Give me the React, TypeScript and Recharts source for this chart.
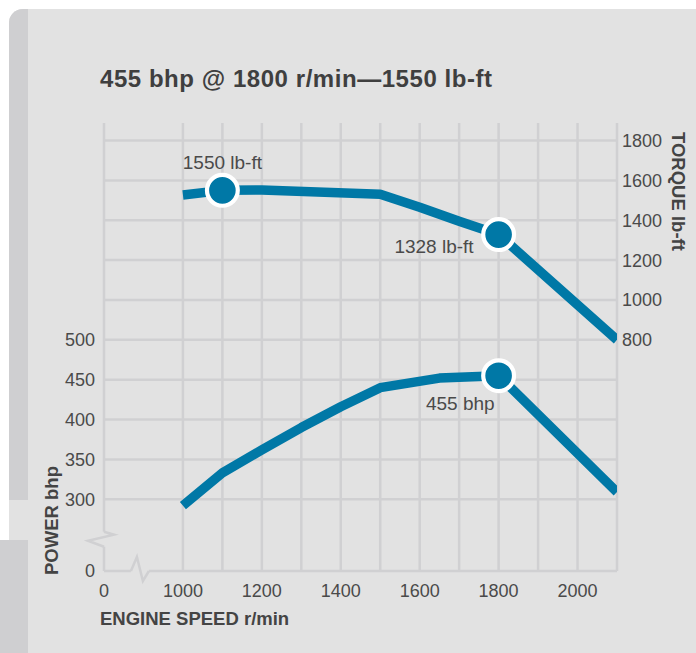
import React from "react";
import {
  LineChart,
  Line,
  XAxis,
  YAxis,
  CartesianGrid,
  ReferenceDot,
} from "recharts";

// engine speed axis (800 stands in for the broken "0")
const rpmTicks = [800, 1000, 1200, 1400, 1600, 1800, 2000];
const rpmGrid = [800, 1000, 1100, 1200, 1300, 1400, 1500, 1600, 1700, 1800, 1900, 2000, 2100];
const powerTicks = [210, 300, 350, 400, 450, 500];
const torqueTicks = [800, 1000, 1200, 1400, 1600, 1800];
const gridPower = [300, 350, 400, 450, 500, 550, 600, 650, 700, 750];

const torqueRpm = [1000, 1100, 1200, 1500, 1600, 1700, 1800, 2100];
const torqueLbFt = [1527, 1550, 1552, 1530, 1465, 1395, 1328, 800];
const powerRpm = [1000, 1100, 1200, 1300, 1400, 1500, 1650, 1800, 2100];
const powerBhp = [292, 333, 362, 390, 416, 440, 452, 455, 309];

const torqueMarkers = [
  { rpm: 1100, value: 1550, label: "1550 lb-ft" },
  { rpm: 1800, value: 1328, label: "1328 lb-ft" },
];
const powerMarkers = [{ rpm: 1800, value: 455, label: "455 bhp" }];

const torqueData = torqueRpm.map((rpm, i) => ({ rpm, torque: torqueLbFt[i] }));
const powerData = powerRpm.map((rpm, i) => ({ rpm, power: powerBhp[i] }));

const BLUE = "#0078a6";
const GRID = "#d0d0d2";
const PANEL = "#e2e2e2";
const TEXT = "#4a4a4a";
const FONT = "'Liberation Sans', Arial, Helvetica, sans-serif";
const TICK = { fontSize: 18, fill: TEXT, fontFamily: FONT };

// where each marker's text sits relative to the dot
const labelPlacement: Record<string, { dx: number; dy: number; anchor: string }> = {
  "1550 lb-ft": { dx: 0, dy: -28, anchor: "middle" },
  "1328 lb-ft": { dx: -25, dy: 12, anchor: "end" },
  "455 bhp": { dx: -4, dy: 28, anchor: "end" },
};

const markerShape = (label: string) => (props: any) => {
  const { cx, cy } = props;
  const p = labelPlacement[label];
  return (
    <g>
      <circle cx={cx} cy={cy} r={15.4} fill={BLUE} stroke="#fff" strokeWidth={4.2} />
      <text
        x={cx + p.dx}
        y={cy + p.dy}
        textAnchor={p.anchor as any}
        dominantBaseline="central"
        fontSize={19}
        fontFamily={FONT}
        fill={TEXT}
      >
        {label}
      </text>
    </g>
  );
};

const yBreak = (props: any) => {
  const { cx, cy } = props;
  return (
    <g>
      <rect x={cx - 3} y={cy - 9} width={6} height={15} fill={PANEL} />
      <path
        d={`M${cx},${cy - 9} L${cx + 10},${cy - 6} L${cx - 16},${cy} L${cx},${cy + 6}`}
        stroke={GRID}
        strokeWidth={2.5}
        fill="none"
      />
    </g>
  );
};

const xBreak = (props: any) => {
  const { cx, cy } = props;
  return (
    <g>
      <rect x={cx - 9} y={cy - 3} width={18} height={6} fill={PANEL} />
      <path
        d={`M${cx - 9},${cy} L${cx - 3},${cy - 14} L${cx + 3},${cy + 10} L${cx + 9},${cy}`}
        stroke={GRID}
        strokeWidth={2.5}
        fill="none"
      />
    </g>
  );
};

export default function App() {
  return (
    <div style={{ position: "absolute", left: 0, top: 0, width: 696, height: 653, background: "#fff", overflow: "hidden" }}>
      <div style={{ position: "absolute", left: 9, top: 9, width: 687, height: 644, background: PANEL, borderTopLeftRadius: 14 }} />
      <div style={{ position: "absolute", left: 9, top: 9, width: 19, height: 491, background: "#cfcfd1", borderTopLeftRadius: 14 }} />
      <div style={{ position: "absolute", left: 0, top: 540, width: 28, height: 113, background: "#cfcfd1" }} />

      <div style={{ position: "absolute", left: 0, top: 0 }}>
        <LineChart width={696} height={653} margin={{ top: 123, right: 0, bottom: 0, left: 0 }}>
          <CartesianGrid
            yAxisId="power"
            stroke={GRID}
            strokeWidth={2.5}
            horizontalValues={gridPower}
            verticalValues={rpmGrid}
          />
          <XAxis
            dataKey="rpm"
            type="number"
            domain={[800, 2100]}
            ticks={rpmTicks}
            allowDataOverflow
            height={82}
            tickSize={0}
            tickMargin={13}
            axisLine={{ stroke: GRID, strokeWidth: 2.5 }}
            tickFormatter={(v) => (v === 800 ? "0" : String(v))}
            tick={TICK}
          />
          <YAxis
            yAxisId="power"
            orientation="left"
            type="number"
            domain={[210, 772]}
            ticks={powerTicks}
            allowDataOverflow
            width={104}
            tickSize={0}
            tickMargin={9}
            axisLine={false}
            tickFormatter={(v) => (v === 210 ? "0" : String(v))}
            tick={TICK}
          />
          <YAxis
            yAxisId="torque"
            orientation="right"
            type="number"
            domain={[-360, 1888]}
            ticks={torqueTicks}
            allowDataOverflow
            width={79}
            tickSize={0}
            tickMargin={5}
            axisLine={false}
            tick={{ ...TICK, textAnchor: "start" }}
          />
          <ReferenceDot x={800} y={248} yAxisId="power" r={1} ifOverflow="visible" shape={yBreak} />
          <ReferenceDot x={891} y={210} yAxisId="power" r={1} ifOverflow="visible" shape={xBreak} />
          <Line
            data={torqueData}
            dataKey="torque"
            yAxisId="torque"
            type="linear"
            stroke={BLUE}
            strokeWidth={9.5}
            strokeLinejoin="round"
            dot={false}
            activeDot={false}
            isAnimationActive={false}
          />
          <Line
            data={powerData}
            dataKey="power"
            yAxisId="power"
            type="linear"
            stroke={BLUE}
            strokeWidth={9.5}
            strokeLinejoin="round"
            dot={false}
            activeDot={false}
            isAnimationActive={false}
          />
          {torqueMarkers.map((m) => (
            <ReferenceDot
              key={m.label}
              x={m.rpm}
              y={m.value}
              yAxisId="torque"
              r={15}
              ifOverflow="visible"
              shape={markerShape(m.label)}
            />
          ))}
          {powerMarkers.map((m) => (
            <ReferenceDot
              key={m.label}
              x={m.rpm}
              y={m.value}
              yAxisId="power"
              r={15}
              ifOverflow="visible"
              shape={markerShape(m.label)}
            />
          ))}
        </LineChart>
      </div>

      <svg width={696} height={653} style={{ position: "absolute", left: 0, top: 0, pointerEvents: "none" }}>
        <text x={100} y={87} fontSize={24} fontWeight="bold" fill="#3f3f3f" fontFamily={FONT} letterSpacing={0.55}>
          455 bhp @ 1800 r/min—1550 lb-ft
        </text>
        <text x={100} y={625} fontSize={18.5} fontWeight="bold" fill="#444" fontFamily={FONT}>
          ENGINE SPEED r/min
        </text>
        <text
          x={58}
          y={575}
          transform="rotate(-90 58 575)"
          fontSize={18.5}
          fontWeight="bold"
          fill="#444"
          fontFamily={FONT}
        >
          POWER bhp
        </text>
        <text
          x={672}
          y={132}
          transform="rotate(90 672 132)"
          fontSize={18.5}
          fontWeight="bold"
          fill="#444"
          fontFamily={FONT}
        >
          TORQUE lb-ft
        </text>
      </svg>
    </div>
  );
}
